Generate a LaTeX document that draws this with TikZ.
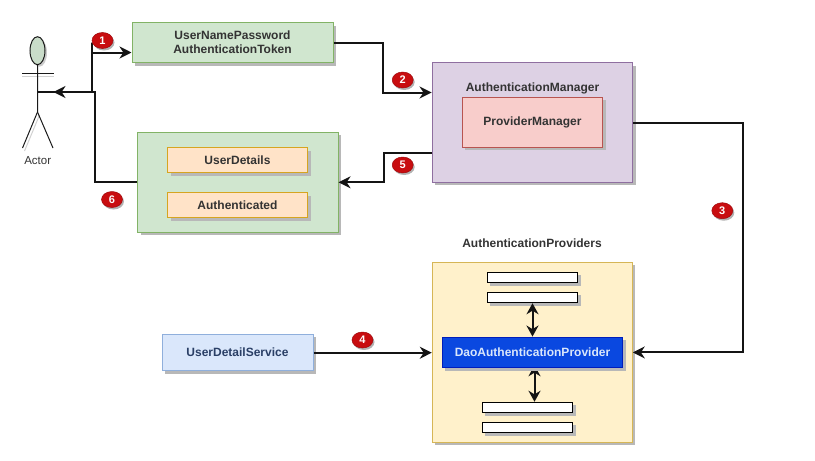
\documentclass[tikz,border=0pt]{standalone}
\usepackage{fontspec}
\setmainfont{Liberation Sans}
\usetikzlibrary{arrows.meta,shadows,calc,shapes.geometric}
\pgfdeclarelayer{under}
\pgfdeclarelayer{mid}
\pgfsetlayers{under,mid,main}
\definecolor{txt}{HTML}{333333}
\definecolor{udstxt}{HTML}{2A3F66}
\tikzset{
  shade3/.style={general shadow={shadow xshift=3pt,shadow yshift=-3pt,fill=black!28}},
  box/.style={draw,line width=1pt,shade3,inner sep=0pt,align=center,text=txt,
    font=\fontsize{12}{14}\selectfont\bfseries},
  greenbox/.style={box,fill=green1,draw=green2},
  orangebox/.style={box,fill=orange1,draw=orange2},
  bar/.style={draw=black,line width=1pt,fill=white,shade3,inner sep=0pt,minimum width=90.5pt,minimum height=10.5pt},
  conn/.style={line width=2pt,draw=black!92,-{Stealth[length=12pt,width=12pt]}},
  both/.style={line width=2pt,draw=black!92,{Stealth[length=11pt,width=12pt]}-{Stealth[length=11pt,width=12pt]}},
  badge/.style={ellipse,fill=badgered,draw=badgered!80!black,line width=0.5pt,inner sep=0pt,minimum width=21pt,minimum height=16pt,
    text=white,font=\fontsize{11}{12}\selectfont\bfseries,
    general shadow={shadow xshift=1.5pt,shadow yshift=-2pt,fill=black!30}},
  limb/.style={line width=1pt,draw=black!90},
  limbshade/.style={line width=1pt,draw=black!18},
  lbl/.style={text=txt,font=\fontsize{12}{14}\selectfont\bfseries,inner sep=0pt}
}
\definecolor{green1}{HTML}{D0E6CF}
\definecolor{green2}{HTML}{82B366}
\definecolor{headfill}{HTML}{C9DCC9}
\definecolor{orange1}{HTML}{FFE3C8}
\definecolor{orange2}{HTML}{D6A520}
\definecolor{purple1}{HTML}{DDD1E4}
\definecolor{purple2}{HTML}{8F6FA0}
\definecolor{pink1}{HTML}{F8CDCB}
\definecolor{pink2}{HTML}{B85450}
\definecolor{yellow1}{HTML}{FFF1CB}
\definecolor{yellow2}{HTML}{D6B656}
\definecolor{blue1}{HTML}{DAE7FB}
\definecolor{blue2}{HTML}{8FAFDC}
\definecolor{dao1}{HTML}{0A48E0}
\definecolor{dao2}{HTML}{001DBC}
\definecolor{badgered}{HTML}{C80D10}
\begin{document}
\begin{tikzpicture}[x=1pt,y=-1pt]
\useasboundingbox (0,0) rectangle (815,461);
\begin{pgfonlayer}{under}
\node[box,fill=yellow1,draw=yellow2,minimum width=200pt,minimum height=180pt] (yel) at (532.3,352.3) {};
\end{pgfonlayer}
% nodes
\node[greenbox,minimum width=201pt,minimum height=40pt] (tok) at (232.5,42.5) {UserNamePassword\\AuthenticationToken};
\node[greenbox,minimum width=200.5pt,minimum height=100pt] (res) at (237.8,182.3) {};
\node[orangebox,minimum width=140pt,minimum height=25pt] (ud) at (237.5,160) {UserDetails};
\node[orangebox,minimum width=140pt,minimum height=25pt] (au) at (237.5,205) {Authenticated};
\node[box,fill=purple1,draw=purple2,minimum width=200.7pt,minimum height=119.6pt] (mgr) at (532.4,122.5) {};
\node[lbl] (mgrt) at (532.5,88) {AuthenticationManager};
\node[box,fill=pink1,draw=pink2,minimum width=140.4pt,minimum height=50pt] (pm) at (532.5,122.3) {ProviderManager};
\node[lbl] (apt) at (532,243) {AuthenticationProviders};
\node[bar] (b1) at (532.5,277.5) {};
\node[bar] (b2) at (532.5,297.5) {};
\node[bar] (b3) at (527.5,407.5) {};
\node[bar] (b4) at (527.5,427.5) {};
\node[box,fill=dao1,draw=dao2,minimum width=180.4pt,minimum height=30.7pt,text=blue1] (dao) at (532.5,352.4) {DaoAuthenticationProvider};
\node[box,fill=blue1,draw=blue2,minimum width=151pt,minimum height=36.5pt,text=udstxt] (uds) at (237.5,352.7) {UserDetailService};
% actor
\node[draw=black!90,line width=1pt,fill=headfill,ellipse,inner sep=0pt,minimum width=15pt,minimum height=28pt,
  general shadow={shadow xshift=2pt,shadow yshift=-2pt,fill=black!20}] (head) at (37.5,50.7) {};
\coordinate (hip) at (37.5,112);
\coordinate (armL) at (22,73);
\coordinate (armR) at (54,73);
\coordinate (legL) at (22.5,148);
\coordinate (legR) at (53,148);
\coordinate (chest) at (37.5,92);
\draw[limbshade] ($(hip)+(2,3)$) -- ($(legL)+(2,3)$);
\draw[limbshade] ($(armL)+(0,3)$) -- ($(armR)+(0,3)$);
\draw[limb] (head.south) -- (hip) -- (legL);
\draw[limb] (hip) -- (legR);
\draw[limb] (armL) -- (armR);
\node[inner sep=0pt,text=txt,font=\fontsize{11.5}{13}\selectfont] (actt) at (37.7,160.5) {Actor};
% connectors
\draw[conn] (chest) -| ($(tok.west)+(-40,0)$) |- ($(tok.west)+(0,10)$);
\draw[conn] (res.west) -| ($(chest)+(57.5,0)$) -- ($(chest)+(16,0)$);
\draw[conn] (tok.east) -| ($(tok.east)!0.5!(mgr.west)+(0,0)$) |- ($(mgr.west)+(0,-30)$);
\draw[conn] ($(mgr.west)+(0,30)$) -| ($(mgr.west)+(-47.5,30)$) |- (res.east);
\draw[conn] (mgr.east) -- ++(109.5,0) |- (dao.east -| yel.east);
\draw[conn] (uds.east) -- (uds.east -| yel.west);
\draw[both] (b2.south) -- (dao.north -| b2.south);
\begin{pgfonlayer}{mid}
\draw[both] ($(dao.south)+(2,-3)$) -- (b3.north -| {$(dao.south)+(2,0)$});
\end{pgfonlayer}
% badges
\node[badge] (n1) at (102.5,40.5) {1};
\node[badge] (n2) at (402.7,80) {2};
\node[badge] (n3) at (722.3,210.7) {3};
\node[badge] (n4) at (362.5,340) {4};
\node[badge] (n5) at (402.7,165) {5};
\node[badge] (n6) at (112,199.5) {6};
\end{tikzpicture}
\end{document}
